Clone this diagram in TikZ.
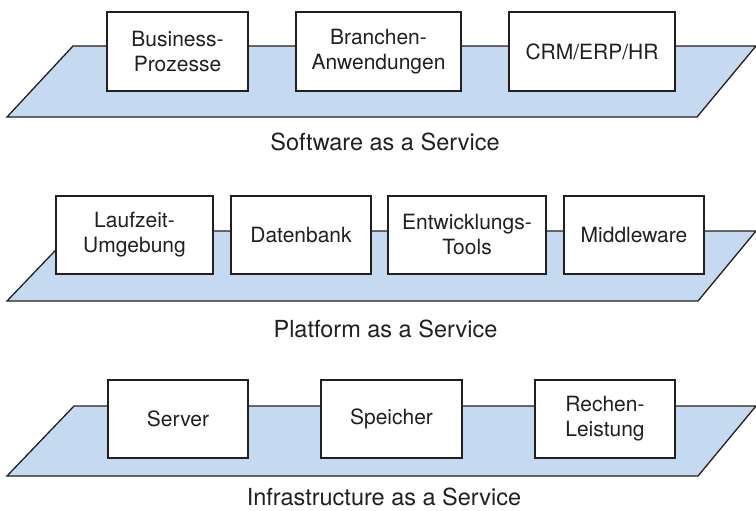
\documentclass[tikz,border=0pt]{standalone}
\usepackage{fontspec}
\setmainfont{TeX Gyre Heros}
\definecolor{ink}{RGB}{35,31,32}
\definecolor{layerblue}{RGB}{197,217,240}
\tikzset{
  layer/.style={fill=layerblue, draw=ink, line width=1.3pt},
  svcbox/.style={draw=ink, fill=white, line width=1.2pt, inner sep=0pt,
    align=center, text=ink, font=\fontsize{21}{25}\selectfont},
  layerlabel/.style={anchor=base, text=ink, inner sep=0pt,
    font=\fontsize{23.5}{28}\selectfont},
}
\begin{document}
\begin{tikzpicture}[x=1pt, y=-1pt]
  \useasboundingbox (0,0) rectangle (756,511);

  % --- Software as a Service ---
  \coordinate (s1) at (7,117);
  \coordinate (s2) at (73,46);
  \coordinate (s3) at (756,46);
  \coordinate (s4) at (697,117);
  \draw[layer] (s1) -- (s2) -- (s3) -- (s4) -- cycle;
  \node[svcbox, minimum width=141pt, minimum height=79pt] (biz) at (177.5,51.5) {Business-\\Prozesse};
  \node[svcbox, minimum width=165pt, minimum height=79pt] (bra) at (378.5,51.5) {Branchen-\\Anwendungen};
  \node[svcbox, minimum width=166pt, minimum height=79pt] (crm) at (592,51.5) {CRM/ERP/HR};
  \node[layerlabel] (saas) at (385,150) {Software as a Service};

  % --- Platform as a Service ---
  \coordinate (p1) at (7,301);
  \coordinate (p2) at (74,231);
  \coordinate (p3) at (756,231);
  \coordinate (p4) at (698,301);
  \draw[layer] (p1) -- (p2) -- (p3) -- (p4) -- cycle;
  \node[svcbox, minimum width=157pt, minimum height=78pt] (lzu) at (134.5,235) {Laufzeit-\\Umgebung};
  \node[svcbox, minimum width=140pt, minimum height=78pt] (db) at (301,235) {Datenbank};
  \node[svcbox, minimum width=158pt, minimum height=78pt] (ent) at (467,235) {Entwicklungs-\\Tools};
  \node[svcbox, minimum width=140pt, minimum height=78pt] (mid) at (634,235) {Middleware};
  \node[layerlabel] (paas) at (385.5,337) {Platform as a Service};

  % --- Infrastructure as a Service ---
  \coordinate (i1) at (7,476);
  \coordinate (i2) at (74,406);
  \coordinate (i3) at (756,406);
  \coordinate (i4) at (698,476);
  \draw[layer] (i1) -- (i2) -- (i3) -- (i4) -- cycle;
  \node[svcbox, minimum width=140pt, minimum height=78pt] (srv) at (178,419) {Server};
  \node[svcbox, minimum width=141pt, minimum height=78pt] (spe) at (391.5,419) {Speicher};
  \node[svcbox, minimum width=140pt, minimum height=78pt] (rec) at (605,419) {Rechen-\\Leistung};
  \node[layerlabel] (iaas) at (384,505) {Infrastructure as a Service};
\end{tikzpicture}
\end{document}
